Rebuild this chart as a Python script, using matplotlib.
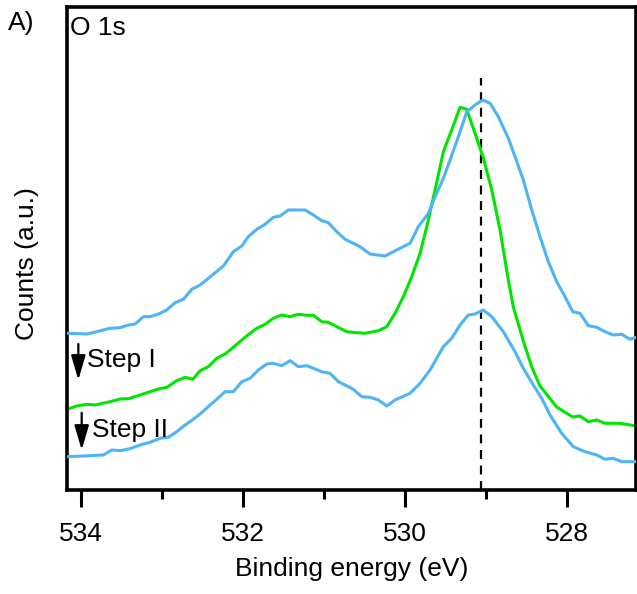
import matplotlib
matplotlib.use("Agg")
import matplotlib.pyplot as plt
from matplotlib.ticker import MultipleLocator

plt.rcParams['font.family'] = ['Liberation Sans', 'DejaVu Sans']
plt.rcParams['font.size'] = 19

# O 1s spectra (binding energy in eV, counts in a.u.)
e_top = [534.17, 533.926, 533.803, 533.639, 533.516, 533.413, 533.331, 533.228, 533.146, 533.043,
         532.940, 532.838, 532.735, 532.632, 532.529, 532.427, 532.242, 532.119, 532.015, 531.934,
         531.830, 531.728, 531.626, 531.543, 531.441, 531.235, 531.133, 531.029, 530.948, 530.844,
         530.742, 530.640, 530.557, 530.434, 530.249, 530.105, 529.941, 529.838, 529.715, 529.632,
         529.530, 529.447, 529.345, 529.242, 529.139, 529.044, 528.954, 528.852, 528.729, 528.646,
         528.544, 528.440, 528.338, 528.236, 528.132, 528.030, 527.935, 527.845, 527.743, 527.639,
         527.537, 527.434, 527.331, 527.229, 527.15]
c_top = [156.7, 156, 158.3, 161.7, 162.3, 165, 166, 173.3, 173.3, 176,
         180, 187.3, 190.7, 200.7, 205, 211.7, 224, 238.3, 244, 253.3,
         260.7, 265.7, 272.7, 274, 280, 280, 275, 269.3, 267.3, 258.3,
         250.7, 246.7, 243.3, 236, 234, 240, 246.7, 263.3, 276.7, 293.3,
         311.7, 330, 353.3, 378, 385, 390, 386.7, 373.3, 351.7, 333.3,
         310, 280, 253.3, 228.3, 208.3, 193.3, 178.3, 176.7, 164.3, 162.7,
         158.3, 155, 155.7, 150.7, 152.7]

e_step1 = [534.17, 534.049, 533.926, 533.824, 533.639, 533.516, 533.413, 533.269, 533.146, 533.043,
           532.940, 532.817, 532.714, 532.619, 532.529, 532.427, 532.324, 532.221, 532.119, 532.015,
           531.913, 531.830, 531.728, 531.626, 531.522, 531.420, 531.318, 531.214, 531.133, 531.029,
           530.948, 530.844, 530.721, 530.598, 530.495, 530.331, 530.228, 530.126, 530.023, 529.920,
           529.817, 529.735, 529.632, 529.530, 529.427, 529.324, 529.242, 529.139, 529.037, 528.933,
           528.831, 528.729, 528.667, 528.544, 528.440, 528.338, 528.132, 527.935, 527.845, 527.743,
           527.639, 527.537, 527.352, 527.15]
c_step1 = [80.7, 84, 85.7, 85, 88.3, 91, 91.3, 95, 98.3, 101,
           102.7, 109.3, 112.7, 110.7, 119.3, 123.3, 131.7, 136, 142.7, 150,
           156.7, 161.7, 165.7, 171.7, 175, 173.3, 175.7, 174.7, 174.7, 168.3,
           167.7, 163.3, 158.3, 157.3, 156.7, 159.3, 163.3, 176.7, 193.3, 213.3,
           236.7, 263.3, 300, 338.3, 360, 382.7, 380.7, 356.7, 332, 300,
           260, 210, 183, 149, 123, 104, 83, 73, 74, 68.3,
           70, 66.7, 66.7, 64]

e_step2 = [534.17, 533.968, 533.721, 533.618, 533.516, 533.392, 533.269, 533.146, 533.022, 532.920,
           532.817, 532.714, 532.612, 532.529, 532.406, 532.324, 532.221, 532.119, 532.015, 531.913,
           531.811, 531.707, 531.626, 531.522, 531.420, 531.318, 531.214, 531.133, 531.029, 530.927,
           530.824, 530.742, 530.640, 530.536, 530.434, 530.331, 530.228, 530.126, 529.941, 529.817,
           529.694, 529.530, 529.427, 529.324, 529.222, 529.139, 529.037, 528.933, 528.790, 528.646,
           528.544, 528.421, 528.317, 528.215, 528.071, 527.928, 527.783, 527.639, 527.537, 527.434,
           527.331, 527.15]
c_step2 = [33.3, 34, 35, 40, 39.3, 41.3, 45, 47.7, 51.7, 52.7,
           58.3, 65, 70.7, 76, 85, 90.7, 98.3, 98.3, 108.3, 111.7,
           120, 126, 126.7, 124.3, 129.3, 123.3, 124.3, 121.7, 118.3, 116.7,
           108.3, 105, 100.7, 93.3, 92.7, 90, 84, 90, 96.7, 106.7,
           120, 143.3, 151.7, 165, 175, 176, 180, 173.3, 158.3, 138.3,
           121.7, 105, 91.7, 75, 56.7, 43.3, 38.3, 35, 30.7, 31.7,
           28.3, 28.3]

peak_energy = 529.06
peak_line_top = 412

blue = '#4db4f5'
green = '#00e600'

fig = plt.figure(figsize=(6.37, 5.94), dpi=100)
ax = fig.add_axes([0.1052, 0.1751, 0.8932, 0.8123])

ax.plot(e_step1, c_step1, color=green, lw=2.2, zorder=2)
ax.plot(e_top, c_top, color=blue, lw=2.2, zorder=3)
ax.plot(e_step2, c_step2, color=blue, lw=2.2, zorder=3)
ax.vlines(peak_energy, 0, peak_line_top, colors='black', linestyles=(0, (4, 3)), lw=1.6, zorder=1)

ax.set_xlim(534.17, 527.155)
ax.set_ylim(0, 482.5)
ax.xaxis.set_major_locator(MultipleLocator(2))
ax.xaxis.set_minor_locator(MultipleLocator(1))
ax.set_yticks([])
ax.tick_params(axis='x', which='major', direction='out', length=12, width=2.2, pad=11)
ax.tick_params(axis='x', which='minor', direction='out', length=6.5, width=2.2)
for spine in ax.spines.values():
    spine.set_linewidth(2.6)

ax.set_xlabel('Binding energy (eV)', labelpad=8)
ax.set_ylabel('Counts (a.u.)')
ax.yaxis.set_label_coords(-0.049, 0.47)

ax.text(0.0053, 0.943, 'O 1s', transform=ax.transAxes, va='baseline', ha='left')
fig.text(0.0126, 0.9495, 'A)', va='baseline', ha='left')

ax.text(0.0357, 0.2555, 'Step I', transform=ax.transAxes, va='baseline', ha='left')
ax.text(0.0434, 0.1105, 'Step II', transform=ax.transAxes, va='baseline', ha='left')
arrow = dict(arrowstyle='-|>,head_length=0.75,head_width=0.22', color='black', lw=1.6,
             mutation_scale=20, shrinkA=0, shrinkB=0)
ax.annotate('', xy=(0.0199, 0.228), xytext=(0.0199, 0.3026),
            xycoords='axes fraction', textcoords='axes fraction', arrowprops=arrow)
ax.annotate('', xy=(0.0258, 0.0829), xytext=(0.0258, 0.160),
            xycoords='axes fraction', textcoords='axes fraction', arrowprops=arrow)

fig.savefig('out.png', dpi=100)
